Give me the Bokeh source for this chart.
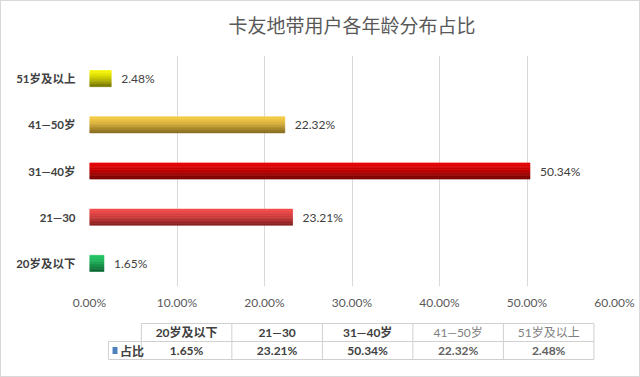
from bokeh.plotting import figure
from bokeh.layouts import column
from bokeh.models import ColumnDataSource, Range1d, FactorRange, FixedTicker
from bokeh.transform import dodge
from bokeh.core.properties import value
from bokeh.embed import file_html
from bokeh.resources import INLINE

# ---- data ----
title_text = "卡友地带用户各年龄分布占比"
categories = ["20岁及以下", "21—30", "31—40岁", "41—50岁", "51岁及以上"]
shares = [1.65, 23.21, 50.34, 22.32, 2.48]          # percent
x_ticks = [0, 10, 20, 30, 40, 50, 60]
series_name = "占比"

# ---- styles ----
top_colors = ["#22C464", "#F24A4A", "#E60000", "#F7CB45", "#F5F500"]
bottom_colors = ["#0B6A32", "#8A2020", "#7A0000", "#8A6E1E", "#7A7A00"]
FONT = "Lato, 'Noto Sans CJK SC', sans-serif"
CJK = "'Noto Sans CJK SC', sans-serif"


def mix(c1, c2, t):
    a = [int(c1[i:i + 2], 16) for i in (1, 3, 5)]
    b = [int(c2[i:i + 2], 16) for i in (1, 3, 5)]
    return "#%02x%02x%02x" % tuple(round(a[j] + (b[j] - a[j]) * t) for j in range(3))


def blank(h):
    f = figure(width=638, height=h, x_range=Range1d(0, 638), y_range=Range1d(h, 0),
               output_backend="svg", toolbar_location=None, min_border=0)
    f.axis.visible = False
    f.grid.visible = False
    f.outline_line_color = None
    f.background_fill_color = "white"
    f.border_fill_color = "white"
    return f


# ---- title strip ----
TH = 44
tt = blank(TH)
tt.text(x=[319], y=[23], text=[title_text], text_align="center",
        text_baseline="middle", text_font=value(CJK), text_font_size="19px",
        text_color="#595959")

# ---- main chart ----
N = 10
H = 0.35
data = dict(cat=categories, val=shares, label=[f"{v:.2f}%" for v in shares])
for k in range(N):
    t = (k / (N - 1)) ** 1.4
    data[f"c{k}"] = [mix(a, b, t) for a, b in zip(top_colors, bottom_colors)]
src = ColumnDataSource(data)

p = figure(width=638, height=319 - TH, y_range=FactorRange(factors=categories),
           x_range=Range1d(0, 60), output_backend="svg", toolbar_location=None,
           min_border_left=88, min_border_right=25, min_border_top=54 - TH,
           min_border_bottom=34)
p.outline_line_color = None
p.background_fill_color = "white"
p.border_fill_color = "white"

for k in range(N):
    off = H / 2 - (k + 0.5) * H / N
    p.hbar(y=dodge("cat", off, range=p.y_range), left=0, right="val",
           height=H / N, fill_color=f"c{k}", line_color=f"c{k}",
           line_width=0.6, source=src)

p.text(x="val", y="cat", text="label", x_offset=10, text_baseline="middle",
       text_align="left", text_font=value(FONT), text_font_size="12px",
       text_color="#404040", source=src)

p.xaxis.ticker = FixedTicker(ticks=x_ticks)
p.xaxis.major_label_overrides = {t: f"{t:.2f}%" for t in x_ticks}
p.xaxis.major_label_text_font = FONT
p.xaxis.major_label_text_font_size = "12px"
p.xaxis.major_label_text_color = "#595959"
p.xaxis.major_label_standoff = 2
p.xaxis.axis_line_color = None
p.xaxis.major_tick_line_color = None
p.xaxis.minor_tick_line_color = None

p.yaxis.major_label_text_font = FONT
p.yaxis.major_label_text_font_size = "11.5px"
p.yaxis.major_label_text_font_style = "bold"
p.yaxis.major_label_text_color = "#404040"
p.yaxis.major_label_standoff = 8
p.yaxis.axis_line_color = None
p.yaxis.major_tick_line_color = None
p.yaxis.minor_tick_line_color = None

p.ygrid.grid_line_color = None
p.xgrid.grid_line_color = "#d9d9d9"

# ---- data table ----
tb = blank(56)
x0, colw, key_x = 63, 110, 23
y_top, y_mid, y_bot = 3, 21, 39
ncol = len(categories)
x_end = x0 + colw * ncol
hx0 = [x0, key_x, key_x]
hx1 = [x_end, x_end, x_end]
hy = [y_top, y_mid, y_bot]
tb.segment(x0=hx0, y0=hy, x1=hx1, y1=hy, line_color="#d0d0d0", line_width=1)
vx = [key_x] + [x0 + colw * i for i in range(ncol + 1)]
vy0 = [y_mid] + [y_top] * (ncol + 1)
vy1 = [y_bot] * (ncol + 2)
tb.segment(x0=vx, y0=vy0, x1=vx, y1=vy1, line_color="#d0d0d0", line_width=1)

cx = [x0 + colw * (i + 0.5) for i in range(ncol)]
tsrc = ColumnDataSource(dict(x=cx, cat=categories, lab=[f"{v:.2f}%" for v in shares],
                             hc=["#404040", "#404040", "#404040", "#808080", "#808080"],
                             vc=["#404040", "#404040", "#404040", "#606060", "#606060"],
                             hs=["bold", "bold", "bold", "normal", "normal"]))
tb.text(x="x", y=(y_top + y_mid) / 2, text="cat", text_align="center",
        text_baseline="middle", text_font=value(FONT), text_font_size="12px",
        text_font_style="hs", text_color="hc", source=tsrc)
tb.text(x="x", y=(y_mid + y_bot) / 2, text="lab", text_align="center",
        text_baseline="middle", text_font=value(FONT), text_font_size="12px",
        text_font_style="bold", text_color="vc", source=tsrc)
tb.rect(x=[31], y=[(y_mid + y_bot) / 2], width=6, height=7,
        fill_color="#4F81BD", line_color=None)
tb.text(x=[37], y=[(y_mid + y_bot) / 2], text=[series_name], text_align="left",
        text_baseline="middle", text_font=value(CJK), text_font_size="12px",
        text_font_style="bold", text_color="#404040")

layout = column(tt, p, tb, spacing=0, styles={"border": "1px solid #d9d9d9"})

open("out.html", "w").write(file_html(layout, INLINE))
